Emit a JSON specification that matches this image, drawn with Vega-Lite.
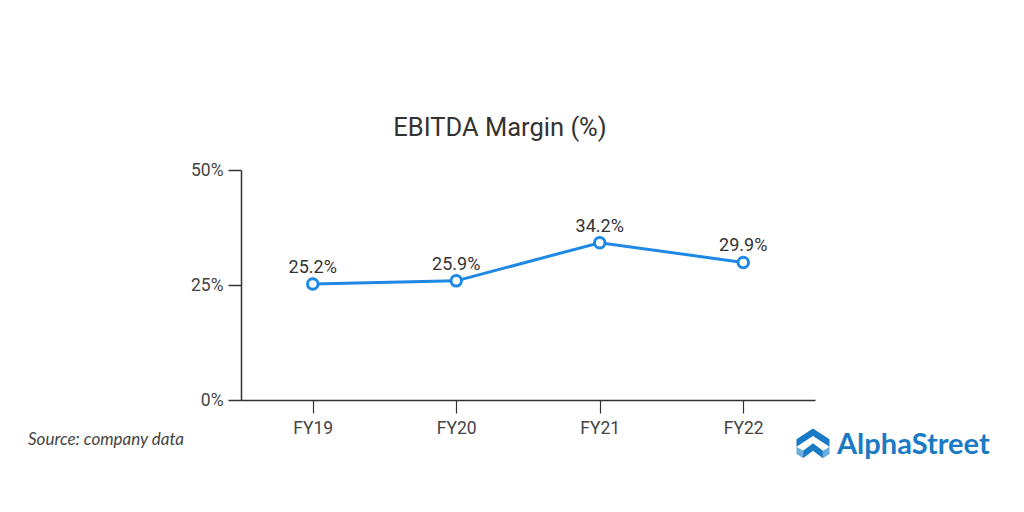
{
  "$schema": "https://vega.github.io/schema/vega-lite/v6.json",
  "width": 574,
  "height": 230,
  "autosize": {"type": "none"},
  "padding": {"left": 241, "top": 170, "right": 209, "bottom": 112},
  "background": "white",
  "config": {"view": {"stroke": null}},
  "title": {"text": "EBITDA Margin (%)", "font": "Roboto", "fontSize": 25.5, "fontWeight": "normal", "color": "#333333", "anchor": "middle", "dx": -28, "offset": 20},
  "data": {"values": [
    {"year": "FY19", "margin": 25.2, "label": "25.2%"},
    {"year": "FY20", "margin": 25.9, "label": "25.9%"},
    {"year": "FY21", "margin": 34.2, "label": "34.2%"},
    {"year": "FY22", "margin": 29.9, "label": "29.9%"}
  ]},
  "encoding": {
    "x": {"field": "year", "type": "ordinal", "sort": null, "scale": {"type": "point", "padding": 0.5},
      "axis": {"title": null, "labelAngle": 0, "labelFont": "Roboto", "labelFontSize": 17.5, "labelColor": "#444444", "domainColor": "#333333", "domainWidth": 1.5, "tickColor": "#333333", "tickWidth": 1.2, "tickSize": 13, "labelPadding": 6, "grid": false}},
    "y": {"field": "margin", "type": "quantitative", "scale": {"domain": [0, 50]},
      "axis": {"title": null, "values": [0, 25, 50], "labelExpr": "datum.value + '%'", "labelFont": "Roboto", "labelFontSize": 17.5, "labelColor": "#444444", "domainColor": "#333333", "domainWidth": 1.5, "tickColor": "#333333", "tickWidth": 1.5, "tickSize": 13, "labelPadding": 5, "grid": false}}
  },
  "layer": [
    {"mark": {"type": "line", "color": "#1e88e5", "strokeWidth": 3}},
    {"mark": {"type": "point", "filled": true, "fill": "white", "stroke": "#1e88e5", "strokeWidth": 3, "size": 110, "opacity": 1}},
    {"mark": {"type": "text", "dy": -16, "font": "Roboto", "fontSize": 18, "color": "#333333"},
      "encoding": {"text": {"field": "label", "type": "nominal"}}},
    {"data": {"values": [{"t": "Source: company data"}]},
      "mark": {"type": "text", "font": "Lato", "fontStyle": "italic", "fontSize": 17, "color": "#444444", "align": "left", "baseline": "middle"},
      "encoding": {"x": {"value": -213}, "y": {"value": 270}, "text": {"field": "t"}}},
    {"data": {"values": [{"t": "AlphaStreet"}]},
      "mark": {"type": "text", "font": "Lato", "fontWeight": "bold", "fontSize": 29, "color": "#1a7bc4", "align": "left", "baseline": "middle"},
      "encoding": {"x": {"value": 596}, "y": {"value": 275}, "text": {"field": "t"}}},
    {"data": {"values": [{"part": "dark"}]},
      "mark": {"type": "point", "filled": true, "color": "#1a7bc4", "opacity": 1, "size": 1089, "shape": "M-1,-0.35L0,-1L1,-0.35L1,0.1L0,-0.55L-1,0.1Z M-0.6,0.35L0,-0.1L0.6,0.35L0.6,0.8L0,0.35L-0.6,0.8Z"},
      "encoding": {"x": {"value": 572}, "y": {"value": 275}}},
    {"data": {"values": [{"part": "light"}]},
      "mark": {"type": "point", "filled": true, "color": "#6aaee0", "opacity": 1, "size": 1089, "shape": "M-1,0.1L-0.6,0.35L-0.6,0.8L-1,0.55Z M1,0.1L0.6,0.35L0.6,0.8L1,0.55Z"},
      "encoding": {"x": {"value": 572}, "y": {"value": 275}}}
  ]
}
